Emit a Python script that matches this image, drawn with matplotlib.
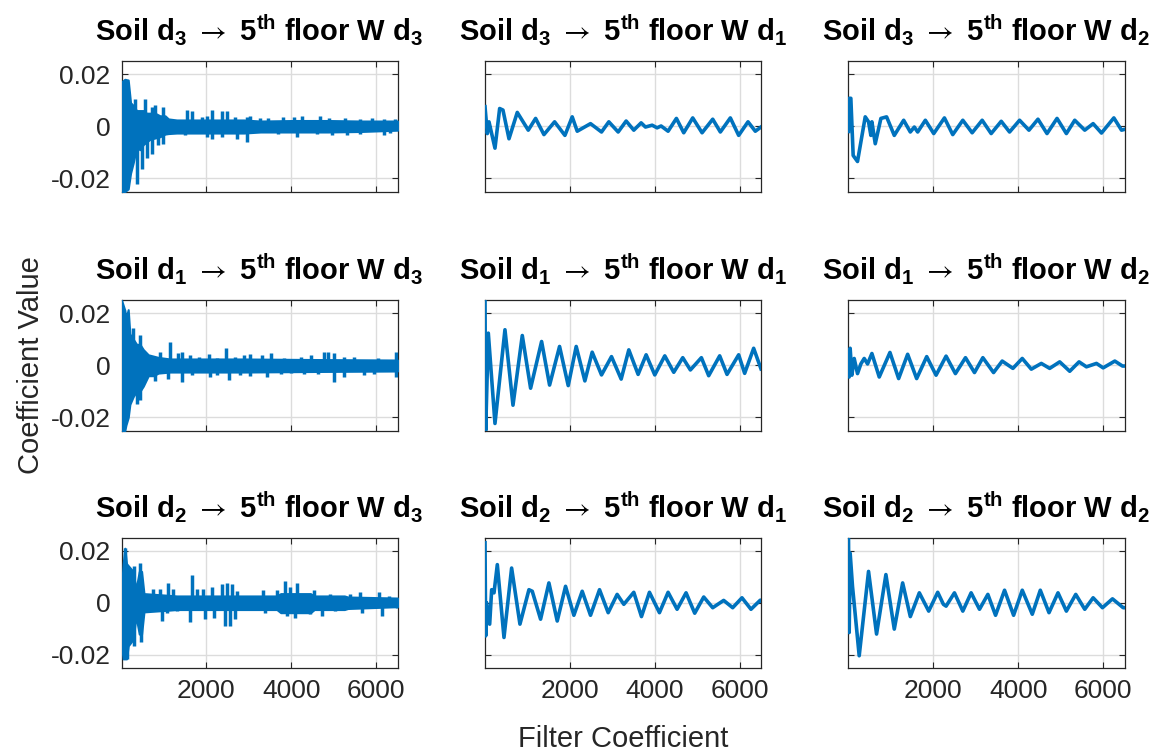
import matplotlib
matplotlib.use("Agg")
import matplotlib.pyplot as plt

plt.rcParams['font.family'] = ['Liberation Sans', 'DejaVu Sans']
plt.rcParams['mathtext.fontset'] = 'custom'
plt.rcParams['mathtext.rm'] = 'Liberation Sans'
plt.rcParams['mathtext.bf'] = 'Liberation Sans:bold'
plt.rcParams['mathtext.it'] = 'Liberation Sans:italic'
plt.rcParams['mathtext.sf'] = 'STIXGeneral'
plt.rcParams['mathtext.fallback'] = 'stixsans'

BLUE = '#0072BD'
GRAY = '#262626'

# sensor index per row (soil) and per column (5th floor)
soil_idx = ['3', '1', '2']
floor_idx = ['3', '1', '2']

xticks = [2000, 4000, 6000]
yticks = [-0.02, 0, 0.02]
ytick_labels = ['-0.02', '0', '0.02']

# all values below in units of 1e-3

# --- noisy panels (column 1): core band envelope + spikes
p11_bx = [0, 79, 158, 213, 276, 355, 434, 513, 592, 671, 789, 907, 1026, 1105, 1302, 2091, 2880, 3274, 4063, 4852, 5641, 6500]
p11_hi = [17, 18, 17.7, 9, 8, 6, 6, 6, 5, 5, 5, 4, 4, 2.8, 2.4, 2.4, 2.4, 2, 2.2, 2.2, 2, 2]
p11_lo = [-25, -25, -24, -18, -14, -8, -9, -7, -6, -5, -4.5, -4, -3, -2.8, -2.6, -2.6, -2.6, -2.2, -2.2, -2.2, -2, -1.5]
p11_sx = [316, 552, 707, 800, 983, 1533, 1651, 1887, 2005, 2123, 2359, 2477, 2674, 2949, 3028, 3264, 3461, 3815,
          4051, 4248, 4680, 4877, 5271, 5625, 5900, 6175, 6450,
          355, 473, 600, 707, 868, 983, 1494, 2005, 2123, 2359, 2713, 2949, 3264, 3697, 4130, 4602, 4956, 5310,
          5625, 6175, 6332]
p11_sy = [10.6, 10.6, 7.4, 8, 7.4, 6.1, 5.7, 3.5, 4, 6.1, 5.7, 5.7, 3.5, 3.5, 4, 3, 3, 3.5,
          3.5, 4, 3.8, 3.2, 3.2, 2.7, 3.2, 2.7, 2.7,
          -22, -16.4, -12, -10.6, -7.2, -6.8, -3.5, -4.1, -4.8, -4.1, -4.8, -5.9, -2.3, -2.9, -4.1, -2.9, -3.5, -3.2,
          -2.9, -3.2, -2.6]

p21_bx = [0, 79, 103, 158, 197, 276, 355, 434, 513, 631, 750, 868, 1144, 2880, 4458, 6500]
p21_hi = [25, 21, 18, 21.3, 12, 10, 8, 8, 6, 4, 3.5, 3, 2.4, 2.4, 2.2, 2]
p21_lo = [-25, -25, -23, -20, -15, -12, -10, -10, -8, -4, -4, -3, -2.6, -2.6, -2.4, -2.2]
p21_sx = [276, 434, 907, 1144, 1341, 1420, 1617, 1815, 2051, 2249, 2470, 2683, 2880, 3038, 3314, 3511, 3827, 4221,
          4458, 4773, 4852, 5010, 5247, 5484, 5720, 6036, 6470,
          355, 434, 789, 1105, 1420, 1657, 2091, 2249, 2525, 2801, 3038, 3432, 3748, 3985, 4300, 4616, 5010, 5247,
          5720, 5957, 6470]
p21_sy = [14.2, 11.6, 5.2, 9, 4.6, 4.9, 3.9, 3.3, 4.2, 2.6, 6.5, 3.3, 3.9, 4.2, 3.9, 4.6, 2.6, 3.3,
          3.9, 4.9, 4.9, 4.6, 3.3, 3.3, 2, 2.6, 5.2,
          -15, -13.4, -6, -5.1, -6.6, -3.8, -4.4, -3.8, -5.7, -3.8, -4.1, -4.4, -3.2, -2.8, -3.5, -3.2, -6.4, -4.4,
          -3.8, -3.5, -4.4]

p31_bx = [0, 39, 79, 118, 158, 276, 339, 418, 473, 529, 1144, 1302, 3658, 3750, 4450, 4540, 5250, 5330, 6500]
p31_hi = [5.7, 15, 20.9, 15, 14.2, 12, 5, 12, 12, 3.5, 2.8, 2.6, 2.6, 3.5, 3.5, 2.6, 2.6, 2.2, 1.8]
p31_lo = [-16.5, -21.5, -21.5, -21.5, -16.5, -14, -5, -12, -12, -3.5, -2.8, -2.6, -2.6, -3.8, -3.8, -2.6, -2.6, -2.2, -1.5]
p31_sx = [79, 300, 440, 746, 900, 1100, 1220, 1651, 1770, 1925, 2123, 2359, 2477, 2595, 2713, 3028, 3343, 3658,
          3855, 3973, 4130, 4524, 4917, 5389, 5625, 6058, 6294,
          118, 300, 450, 943, 1061, 1302, 1612, 1966, 2170, 2438, 2556, 2674, 3382, 3894, 4091, 4445, 4720, 5035,
          5664, 6136, 6490]
p31_sy = [20.9, 14.2, 15.2, 5.1, 5.1, 7.6, 5.1, 10.8, 5.1, 5.1, 6.1, 7.2, 7.6, 7.2, 4.4, 2.5, 4.7, 4.7,
          8.2, 6.1, 7.6, 4.7, 3.2, 3.2, 4.2, 4.2, 2.5,
          -21.5, -16.5, -15.2, -7, -3.8, -3.2, -7.5, -6.2, -5.7, -8.9, -8.9, -6.2, -3.8, -5.1, -5.7, -4.4, -5.1, -3.2,
          -3.8, -5.1, -1.9]

# --- oscillating panels: extrema
p12_x = [0, 55, 94, 235, 345, 423, 565, 760, 1019, 1192, 1388, 1639, 1882, 2054, 2172, 2485, 2744, 2916, 3136, 3324,
         3504, 3677, 3779, 3936, 4053, 4147, 4312, 4508, 4680, 4892, 5112, 5363, 5543, 5778, 5974, 6194, 6366, 6500]
p12_y = [7.5, -2.8, 1.7, -8.4, 6.8, 6.2, -4.8, 5.3, -1.5, 3, -3.2, 1.7, -3.5, 3.6, -1.9, 1, -2.2, 1.7, -2.2, 2,
         -1.5, 1.3, -0.3, 0.4, -0.6, 0.1, -1.9, 3, -2.5, 3.2, -2.5, 2.7, -2.2, 3.2, -3.5, 1.7, -1.9, -0.3]

p13_x = [0, 16, 55, 110, 212, 394, 472, 527, 551, 630, 763, 897, 1078, 1299, 1456, 1550, 1629, 1810, 2007, 2259,
         2455, 2692, 2912, 3148, 3360, 3597, 3793, 4029, 4250, 4462, 4675, 4911, 5131, 5328, 5564, 5761, 5958, 6249, 6430, 6500]
p13_y = [-2, 10.7, 10.7, -11.2, -13.5, 3.6, 1.7, -3.5, 1.7, -6.7, 3, 3.6, -3.5, 2.3, -2.2, -0.3, -2.2, 2.3, -2.8, 3.2,
         -3.2, 2.3, -2.5, 2.3, -2.8, 1.9, -2.2, 2.3, -1.5, 2.7, -2.8, 3, -2.8, 2.3, -1.5, 1, -2.6, 3.2, -1.5, -1.2]

p22_x = [0, 16, 78, 235, 470, 659, 878, 1074, 1333, 1521, 1756, 1960, 2148, 2352, 2524, 2744, 2979, 3207, 3387, 3606,
         3795, 3998, 4234, 4445, 4657, 4837, 5096, 5268, 5527, 5700, 5974, 6115, 6327, 6500]
p22_y = [25, -25, 12.3, -22.3, 13.6, -15.3, 11.4, -8.8, 9.1, -7.6, 7.2, -7.8, 7.2, -6, 5, -3.7, 3.3, -5.3, 5.9, -3.5,
         4, -3.7, 3.6, -2.7, 2.9, -1.8, 2.9, -4, 3.6, -3.5, 4, -3.1, 6.5, -1.4]

p23_x = [0, 16, 39, 79, 134, 212, 291, 370, 449, 551, 724, 976, 1181, 1393, 1605, 1842, 2062, 2298, 2518, 2755,
         2967, 3164, 3416, 3620, 3872, 4092, 4305, 4541, 4738, 4974, 5210, 5430, 5603, 5840, 5997, 6272, 6453, 6500]
p23_y = [0, -4.5, 6.5, -3.8, 2.6, -3.2, 0.5, 2.6, 0.5, 4.5, -4.5, 4.9, -5.1, 4.2, -5.1, 3.3, -3.8, 3.5, -3.2, 2.9,
         -2.8, 2.9, -2.8, 1.6, -1.2, 2.6, -1.5, 0.7, -1.2, 1.3, -2.3, 1.3, -0.6, 0.7, -1, 1.6, -0.3, -0.3]

p32_x = [0, 16, 39, 110, 157, 212, 290, 447, 627, 823, 1035, 1113, 1309, 1505, 1701, 1897, 2093, 2289, 2485, 2697,
         2901, 3112, 3269, 3504, 3685, 3873, 4108, 4312, 4524, 4735, 4939, 5151, 5363, 5621, 5833, 6052, 6264, 6484, 6500]
p32_y = [23, -12.7, 0, -8.2, 5, 3.8, 14.6, -13.3, 13.3, -8.2, 5, 4.4, -6.3, 7.6, -7, 6.3, -4.8, 4.4, -4.8, 5,
         -3.8, 3.2, -0.6, 4, -5.3, 4, -3.8, 4, -2.5, 3.8, -4, 2.2, -1.9, 0.9, -1.9, 1.9, -2.5, 1, 0.8]

p33_x = [0, 16, 39, 94, 252, 472, 661, 881, 1078, 1275, 1456, 1668, 1889, 2101, 2235, 2298, 2495, 2692, 2888, 3085,
         3282, 3463, 3675, 3888, 4092, 4328, 4517, 4722, 4934, 5131, 5352, 5564, 5761, 5981, 6217, 6469, 6500]
p33_y = [24.5, -11.4, 19, 6.3, -20.3, 12, -12, 10.8, -10.1, 7.6, -5.3, 3.8, -3.2, 4, -0.6, -1.3, 3.8, -3.2, 3.8, -2.5,
         3.2, -4.8, 4.8, -4.8, 4.8, -4.4, 4.8, -3.8, 3.8, -3.2, 3.2, -2.5, 1.9, -1.9, 1.5, -1.9, -1.9]

noisy = {0: (p11_bx, p11_hi, p11_lo, p11_sx, p11_sy),
         1: (p21_bx, p21_hi, p21_lo, p21_sx, p21_sy),
         2: (p31_bx, p31_hi, p31_lo, p31_sx, p31_sy)}
smooth = {(0, 1): (p12_x, p12_y), (0, 2): (p13_x, p13_y),
          (1, 1): (p22_x, p22_y), (1, 2): (p23_x, p23_y),
          (2, 1): (p32_x, p32_y), (2, 2): (p33_x, p33_y)}

W, H = 1159, 752
fig = plt.figure(figsize=(W / 100, H / 100), dpi=100)

col_left = [121.5, 485, 848.5]
row_top = [61, 300, 537.5]
ax_w, ax_h = 276, 130.5
LW = 2.6


def sc(v):
    return [a * 1e-3 for a in v]


axes = [[None] * 3 for _ in range(3)]
for r in range(3):
    for c in range(3):
        ax = fig.add_axes([col_left[c] / W, 1 - (row_top[r] + ax_h) / H, ax_w / W, ax_h / H])
        axes[r][c] = ax
        if c == 0:
            bx, hi, lo, sx, sy = noisy[r]
            ax.fill_between(bx, sc(lo), sc(hi), color=BLUE, linewidth=1.5, zorder=3)
            ax.vlines(sx, 0, sc(sy), color=BLUE, linewidth=2.5, zorder=3)
        else:
            x, y = smooth[(r, c)]
            ax.plot(x, sc(y), color=BLUE, linewidth=LW, solid_joinstyle='round', zorder=3)

        ax.set_xlim(0, 6500)
        ax.set_ylim(-0.025, 0.025)
        ax.set_xticks(xticks)
        ax.set_yticks(yticks)
        if r == 2:
            ax.set_xticklabels([str(t) for t in xticks])
        else:
            ax.set_xticklabels([])
        if c == 0:
            ax.set_yticklabels(ytick_labels)
        else:
            ax.set_yticklabels([])
        ax.tick_params(direction='in', top=True, right=True, length=4, width=0.8,
                       labelsize=19, color=GRAY, labelcolor=GRAY, pad=8)
        ax.grid(True, color='#dcdcdc', linewidth=1, zorder=0)
        ax.set_axisbelow(True)
        for s in ax.spines.values():
            s.set_color(GRAY)
            s.set_linewidth(0.9)
        title = (r'Soil d$_{\mathbf{' + soil_idx[r] + r'}}$ $\mathsf{\rightarrow}$ 5$^{\mathbf{th}}$ floor W d$_{\mathbf{'
                 + floor_idx[c] + r'}}$')
        ax.set_title(title, fontsize=21, fontweight='bold', pad=14)

axes[1][0].set_ylabel('Coefficient Value', fontsize=21, color=GRAY, labelpad=4)
axes[2][1].set_xlabel('Filter Coefficient', fontsize=21, color=GRAY, labelpad=16)

fig.savefig('out.png', dpi=100)
